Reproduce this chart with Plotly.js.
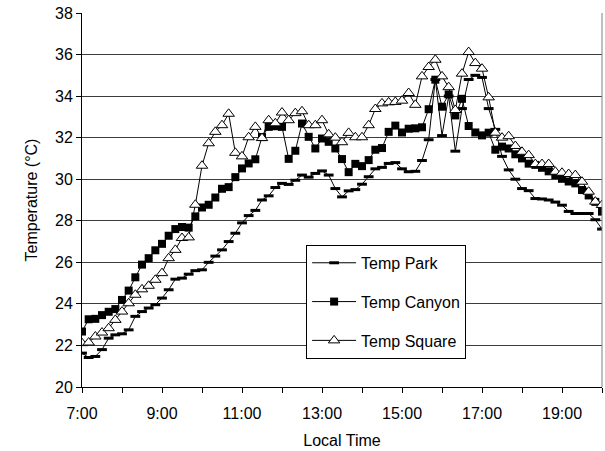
<!DOCTYPE html>
<html>
<head>
<meta charset="utf-8">
<script src="https://cdn.plot.ly/plotly-3.0.1.min.js"></script>
<style>html,body{margin:0;padding:0;background:#fff}#chart{width:605px;height:451px}</style>
</head>
<body>
<div id="chart"></div>
<script>
const times = ["7:00","7:10","7:20","7:30","7:40","7:50","8:00","8:10","8:20","8:30","8:40","8:50",
"9:00","9:10","9:20","9:30","9:40","9:50","10:00","10:10","10:20","10:30","10:40","10:50",
"11:00","11:10","11:20","11:30","11:40","11:50","12:00","12:10","12:20","12:30","12:40","12:50",
"13:00","13:10","13:20","13:30","13:40","13:50","14:00","14:10","14:20","14:30","14:40","14:50",
"15:00","15:10","15:20","15:30","15:40","15:50","16:00","16:10","16:20","16:30","16:40","16:50",
"17:00","17:10","17:20","17:30","17:40","17:50","18:00","18:10","18:20","18:30","18:40","18:50",
"19:00","19:10","19:20","19:30","19:40","19:50","20:00"];

const tempPark = [21.63,21.42,21.47,21.8,22.35,22.51,22.56,22.75,23.4,23.63,
23.8,23.96,24.28,24.68,25.19,25.24,25.43,25.6,25.64,26.0,
26.3,26.6,27.0,27.4,27.9,28.25,28.5,29.0,29.2,29.6,
29.8,29.75,29.95,30.2,30.1,30.28,30.4,30.2,29.55,29.15,
29.44,29.5,29.76,30.12,30.5,30.57,30.76,30.8,30.5,30.36,
30.38,30.9,31.9,34.8,32.1,34.0,31.35,33.4,34.8,35.0,
34.9,33.4,32.4,31.1,30.45,30.0,29.55,29.45,29.07,29.05,
29.0,28.9,28.75,28.45,28.35,28.35,28.35,28.05,27.6];

const tempCanyon = [22.67,23.26,23.28,23.46,23.62,23.75,24.19,24.64,25.28,25.89,
26.2,26.58,26.89,27.28,27.6,27.7,27.67,28.21,28.64,28.77,
29.12,29.54,29.62,30.1,30.52,30.76,30.96,32.03,32.52,32.55,
32.52,30.98,31.37,32.68,32.04,31.48,31.96,31.8,31.48,30.97,
30.34,30.74,30.63,30.92,31.42,31.5,32.28,32.58,32.25,32.43,
32.45,32.5,33.37,34.79,33.49,34.08,33.07,33.87,32.56,32.25,
32.11,32.24,31.42,31.57,31.48,31.2,31.0,30.75,30.69,30.55,
30.38,30.2,30.02,29.89,29.8,29.48,29.22,28.91,28.44];

const tempSquare = [22.11,22.14,22.43,22.62,22.83,23.23,23.63,24.03,24.44,24.7,
24.87,25.16,25.48,26.2,26.6,27.17,27.2,28.77,30.65,31.73,
32.28,32.6,33.15,31.27,31.1,32.02,32.52,31.98,32.84,32.69,
33.21,32.84,33.18,33.27,32.6,32.6,32.84,32.16,32.0,31.78,
32.23,32.02,32.02,32.6,33.38,33.65,33.7,33.72,33.78,34.15,
33.58,34.95,35.4,35.75,34.95,34.43,33.33,35.08,36.12,35.59,
35.32,33.94,32.24,32.0,32.07,31.6,31.32,31.16,30.73,30.73,
30.73,30.36,30.31,30.25,30.2,29.88,29.4,28.92,28.76];

const seriesNames = ["Temp Park","Temp Canyon","Temp Square"];
const xTickLabelsFormat = "%-H:%M";

function toDate(t){
  const p = t.split(":");
  return "2000-01-01 " + String(p[0]).padStart(2,"0") + ":" + p[1];
}
const x = times.map(toDate);

const traces = [
  {x: x, y: tempPark, name: seriesNames[0], type: "scatter", mode: "lines+markers",
   legendgroup: "a",
   line: {color: "#000", width: 1},
   marker: {symbol: "line-ew", size: 7, color: "#000", line: {color: "#000", width: 3}}},
  {x: x, y: tempCanyon, name: seriesNames[1], type: "scatter", mode: "lines+markers",
   legendgroup: "b",
   line: {color: "#000", width: 1},
   marker: {symbol: "square", size: 8, color: "#000", line: {color: "#000", width: 0}}},
  {x: x, y: tempSquare, name: seriesNames[2], type: "scatter", mode: "lines+markers",
   legendgroup: "c",
   line: {color: "#000", width: 1},
   marker: {symbol: "triangle-up", size: 10, color: "#fff", line: {color: "#000", width: 1}}}
];

const layout = {
  width: 605, height: 451,
  margin: {l: 82, r: 3, t: 13, b: 64},
  paper_bgcolor: "#fff", plot_bgcolor: "#fff",
  font: {family: "Liberation Sans, Arial, sans-serif", size: 16, color: "#000"},
  showlegend: true,
  legend: {
    x: 0.431, y: 0.38, xanchor: "left", yanchor: "top",
    bgcolor: "#fff", bordercolor: "#000", borderwidth: 1,
    font: {size: 16}, traceorder: "grouped", tracegroupgap: 15, itemwidth: 44
  },
  xaxis: {
    type: "date",
    range: ["2000-01-01 07:00", "2000-01-01 20:00"],
    tick0: "2000-01-01 07:00", dtick: 7200000,
    tickformat: xTickLabelsFormat,
    ticks: "outside", ticklen: 5, tickcolor: "#000",
    ticklabelstandoff: 7,
    minor: {dtick: 3600000, ticks: "outside", ticklen: 5, tickcolor: "#000", showgrid: false},
    showgrid: false, showline: true, linecolor: "#000", linewidth: 1,
    zeroline: false,
    title: {text: "Local Time", font: {size: 16}, standoff: 13},
    fixedrange: true
  },
  yaxis: {
    range: [20, 38], dtick: 2, tick0: 20,
    ticks: "outside", ticklen: 5, tickcolor: "#000",
    showgrid: true, gridcolor: "#3c3c3c", gridwidth: 1,
    showline: true, linecolor: "#000", linewidth: 1, zeroline: false,
    title: {text: "Temperature (°C)", font: {size: 16}, standoff: 13},
    fixedrange: true
  },
  shapes: [
    {type: "line", xref: "paper", yref: "paper", x0: 1, x1: 1, y0: 0, y1: 1,
     line: {color: "#808080", width: 1}}
  ]
};

Plotly.newPlot("chart", traces, layout, {displayModeBar: false, staticPlot: true});
</script>
</body>
</html>
